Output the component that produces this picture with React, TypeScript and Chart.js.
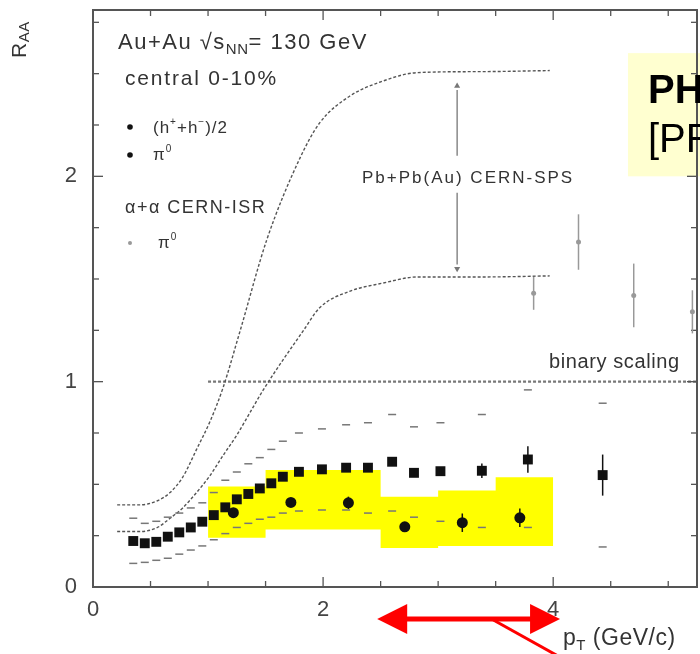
import { useEffect, useRef } from 'react';
import { Chart, registerables } from 'chart.js';
Chart.register(...registerables);

const FONT = '"Liberation Sans", Arial, sans-serif';

// (h+ + h-)/2
const hX = [0.35, 0.45, 0.55, 0.65, 0.75, 0.85, 0.95, 1.05, 1.15, 1.25, 1.35, 1.45, 1.55, 1.65, 1.79, 1.99, 2.2, 2.39, 2.6, 2.79, 3.02, 3.38, 3.78, 4.43];
const hY = [0.224, 0.213, 0.22, 0.245, 0.266, 0.29, 0.318, 0.35, 0.388, 0.427, 0.453, 0.48, 0.505, 0.537, 0.561, 0.573, 0.581, 0.581, 0.61, 0.556, 0.564, 0.566, 0.621, 0.545];
const hErr = [0.01, 0.01, 0.01, 0.01, 0.01, 0.01, 0.01, 0.01, 0.01, 0.01, 0.01, 0.01, 0.01, 0.01, 0.01, 0.015, 0.015, 0.015, 0.02, 0.02, 0.02, 0.035, 0.065, 0.1];
const hUpper = [0.335, 0.31, 0.32, 0.34, 0.36, 0.385, 0.41, 0.46, 0.52, 0.56, 0.6, 0.63, 0.67, 0.71, 0.75, 0.77, 0.79, 0.8, 0.84, 0.78, 0.8, 0.84, 0.96, 0.895];
const hLower = [0.115, 0.12, 0.13, 0.14, 0.16, 0.18, 0.2, 0.23, 0.26, 0.29, 0.31, 0.33, 0.34, 0.36, 0.37, 0.375, 0.375, 0.36, 0.37, 0.34, 0.32, 0.29, 0.29, 0.195];

// pi0 (PHENIX)
const piX = [1.22, 1.72, 2.22, 2.71, 3.21, 3.71];
const piY = [0.362, 0.412, 0.41, 0.293, 0.313, 0.337];
const piErr = [0.015, 0.015, 0.03, 0.02, 0.045, 0.045];

// alpha+alpha CERN-ISR pi0
const isrX = [3.83, 4.22, 4.70, 5.21];
const isrY = [1.43, 1.68, 1.42, 1.34];
const isrErr = [0.08, 0.135, 0.155, 0.105];

// Pb+Pb(Au) CERN-SPS band edges
const spsUpX = [0.21, 0.41, 0.56, 0.67, 0.78, 0.90, 1.02, 1.13, 1.28, 1.51, 1.80, 1.97, 2.23, 2.50, 2.82, 3.40, 3.97];
const spsUpY = [0.40, 0.40, 0.42, 0.46, 0.535, 0.67, 0.81, 0.97, 1.25, 1.69, 2.09, 2.26, 2.39, 2.46, 2.505, 2.51, 2.515];
const spsLoX = [0.21, 0.41, 0.56, 0.67, 0.78, 0.90, 1.02, 1.13, 1.25, 1.36, 1.48, 1.83, 1.97, 2.23, 2.52, 2.82, 3.40, 3.97];
const spsLoY = [0.27, 0.27, 0.29, 0.335, 0.385, 0.46, 0.545, 0.64, 0.74, 0.845, 0.96, 1.25, 1.36, 1.44, 1.48, 1.51, 1.51, 1.515];

// vertical double arrow between SPS curves
const spsArrowX = 3.165;
const spsArrowTop = 2.44;
const spsArrowGapTop = 2.10;
const spsArrowGapBottom = 1.92;
const spsArrowBottom = 1.55;

// binary scaling
const binaryX = [1.0, 5.25];
const binaryY = [1, 1];

// systematic (yellow) band
const sysEdges = [1.0, 1.5, 2.5, 3.0, 3.5, 4.0];
const sysHigh = [0.49, 0.57, 0.44, 0.47, 0.535];
const sysLow = [0.24, 0.28, 0.19, 0.20, 0.20];

// axes
const xMin = 0, xMax = 5.25, xMajor = [0, 2, 4], xMinorStep = 0.5;
const yMin = 0, yMax = 2.81, yMajor = [0, 1, 2], yMinorStep = 0.25;

// red annotation arrow (in x-data units)
const redArrowFrom = 2.47;
const redArrowTo = 4.06;
const redArrowBranch = 3.48;

// PHENIX label box (data units)
const phenixBoxX = 4.65;
const phenixBoxTop = 2.60;
const phenixBoxBottom = 2.0;

const pts = (xs: number[], ys: number[]) => xs.map((x, i) => ({ x, y: ys[i] }));
// segment i value sits on its left edge; last edge repeats last value (stepped:'before')
const stepPts = (edges: number[], vals: number[]) =>
  edges.map((x, i) => ({ x, y: vals[Math.min(i, vals.length - 1)] }));

type Run = { t: string; size: number; dy?: number; bold?: boolean; ls?: number };

function drawRuns(ctx: CanvasRenderingContext2D, x: number, y: number, runs: Run[], color: string, spacing = 0) {
  let cx = x;
  ctx.fillStyle = color;
  ctx.textBaseline = 'alphabetic';
  ctx.textAlign = 'left';
  for (const r of runs) {
    ctx.font = `${r.bold ? 'bold ' : ''}${r.size}px ${FONT}`;
    (ctx as any).letterSpacing = `${r.ls ?? spacing}px`;
    ctx.fillText(r.t, cx, y + (r.dy || 0));
    cx += ctx.measureText(r.t).width;
  }
  (ctx as any).letterSpacing = '0px';
}

const errorBars = {
  id: 'errorBars',
  afterDatasetsDraw(chart: any) {
    const { ctx, scales: { x, y } } = chart;
    ctx.save();
    const draw = (xs: number[], ys: number[], es: number[], color: string) => {
      ctx.strokeStyle = color;
      ctx.lineWidth = 1.5;
      xs.forEach((xv, i) => {
        const px = x.getPixelForValue(xv);
        ctx.beginPath();
        ctx.moveTo(px, y.getPixelForValue(ys[i] - es[i]));
        ctx.lineTo(px, y.getPixelForValue(ys[i] + es[i]));
        ctx.stroke();
      });
    };
    draw(hX, hY, hErr, '#111');
    draw(piX, piY, piErr, '#111');
    draw(isrX, isrY, isrErr, '#999');
    ctx.restore();
  },
};

const frame = {
  id: 'frame',
  afterDatasetsDraw(chart: any) {
    const { ctx, chartArea: { left, right, top, bottom }, scales: { x, y } } = chart;
    ctx.save();
    // PHENIX box (behind frame)
    const bx = x.getPixelForValue(phenixBoxX);
    const by1 = y.getPixelForValue(phenixBoxTop);
    const by2 = y.getPixelForValue(phenixBoxBottom);
    ctx.fillStyle = '#ffffd0';
    ctx.fillRect(bx, by1, chart.width - bx, by2 - by1);

    ctx.strokeStyle = '#555';
    ctx.lineWidth = 1.3;
    const ln = (a: number, b: number, c: number, d: number) => {
      ctx.beginPath(); ctx.moveTo(a, b); ctx.lineTo(c, d); ctx.stroke();
    };
    for (let v = xMin; v <= xMax + 1e-9; v += xMinorStep) {
      const px = x.getPixelForValue(v);
      const len = xMajor.some((m) => Math.abs(m - v) < 1e-6) ? 10 : 6;
      ln(px, bottom, px, bottom - len);
      ln(px, top, px, top + len);
    }
    for (let v = yMin; v <= yMax + 1e-9; v += yMinorStep) {
      const py = y.getPixelForValue(v);
      const len = yMajor.some((m) => Math.abs(m - v) < 1e-6) ? 10 : 6;
      ln(left, py, left + len, py);
      ln(right, py, right - len, py);
    }
    ctx.lineWidth = 2;
    ctx.strokeRect(left, top, right - left, bottom - top);
    ctx.restore();
  },
};

const texts = {
  id: 'texts',
  afterDraw(chart: any) {
    const { ctx, chartArea: { bottom }, scales: { x } } = chart;
    ctx.save();
    const c = '#333';
    drawRuns(ctx, 118, 49, [
      { t: 'Au+Au \u221As', size: 22 },
      { t: 'NN', size: 15, dy: 5, ls: 0.5 },
      { t: '= 130 GeV', size: 22 },
    ], c, 1.5);
    drawRuns(ctx, 125, 85, [{ t: 'central 0-10%', size: 21 }], c, 1.8);

    // legend
    ctx.fillStyle = '#111';
    ctx.beginPath(); ctx.arc(130, 127, 2.8, 0, Math.PI * 2); ctx.fill();
    ctx.beginPath(); ctx.arc(130, 155, 2.8, 0, Math.PI * 2); ctx.fill();
    drawRuns(ctx, 153, 133, [
      { t: '(h', size: 17 },
      { t: '+', size: 10, dy: -8 },
      { t: '+h', size: 17 },
      { t: '\u2212', size: 10, dy: -8 },
      { t: ')/2', size: 17 },
    ], c, 1);
    drawRuns(ctx, 153, 160, [
      { t: '\u03C0', size: 17 },
      { t: '0', size: 10, dy: -8 },
    ], c, 1);
    drawRuns(ctx, 125, 213, [{ t: '\u03B1+\u03B1 CERN-ISR', size: 18 }], c, 1.5);
    ctx.fillStyle = '#999';
    ctx.beginPath(); ctx.arc(130, 243, 2, 0, Math.PI * 2); ctx.fill();
    drawRuns(ctx, 158, 248, [
      { t: '\u03C0', size: 17 },
      { t: '0', size: 10, dy: -8 },
    ], c, 1);

    drawRuns(ctx, 362, 183, [{ t: 'Pb+Pb(Au) CERN-SPS', size: 17 }], c, 2);
    drawRuns(ctx, 549, 368, [{ t: 'binary scaling', size: 20 }], c, 0.6);

    // axis titles
    drawRuns(ctx, 563, 645, [
      { t: 'p', size: 23 },
      { t: 'T', size: 15, dy: 5 },
      { t: ' (GeV/c)', size: 23 },
    ], c, 0.5);
    ctx.save();
    ctx.translate(26, 58);
    ctx.rotate(-Math.PI / 2);
    drawRuns(ctx, 0, 0, [
      { t: 'R', size: 21 },
      { t: 'AA', size: 15, dy: 3 },
    ], c, 0.5);
    ctx.restore();

    // PHENIX box text
    drawRuns(ctx, 648, 103, [{ t: 'PHENIX', size: 40, bold: true }], '#000', 0);
    drawRuns(ctx, 648, 152, [{ t: '[PRL 88 022301]', size: 40 }], '#000', 0);

    // red arrow
    const yA = bottom + 32;
    const xl = x.getPixelForValue(redArrowFrom);
    const xr = x.getPixelForValue(redArrowTo);
    const xb = x.getPixelForValue(redArrowBranch);
    ctx.fillStyle = '#f00';
    ctx.strokeStyle = '#f00';
    ctx.lineWidth = 5;
    ctx.beginPath(); ctx.moveTo(xl + 25, yA); ctx.lineTo(xr - 25, yA); ctx.stroke();
    ctx.beginPath(); ctx.moveTo(xl, yA); ctx.lineTo(xl + 30, yA - 15); ctx.lineTo(xl + 30, yA + 15); ctx.closePath(); ctx.fill();
    ctx.beginPath(); ctx.moveTo(xr, yA); ctx.lineTo(xr - 30, yA - 15); ctx.lineTo(xr - 30, yA + 15); ctx.closePath(); ctx.fill();
    ctx.lineWidth = 3;
    ctx.beginPath(); ctx.moveTo(xb, yA + 1); ctx.lineTo(xb + 70, yA + 40); ctx.stroke();
    ctx.restore();
  },
};

export default function App() {
  const ref = useRef<HTMLCanvasElement>(null);
  useEffect(() => {
    document.body.style.margin = '0';
    const chart = new Chart(ref.current!, {
      type: 'scatter',
      data: {
        datasets: [
          { data: pts(hX, hY), pointStyle: 'rect', pointRadius: 7, backgroundColor: '#111', borderColor: '#111', borderWidth: 0 },
          { data: pts(piX, piY), pointStyle: 'circle', pointRadius: 5.5, backgroundColor: '#111', borderColor: '#111', borderWidth: 0 },
          { data: pts(hX, hUpper), pointStyle: 'line', pointRadius: 4, borderColor: '#777', borderWidth: 1.5 },
          { data: pts(hX, hLower), pointStyle: 'line', pointRadius: 4, borderColor: '#777', borderWidth: 1.5 },
          { data: pts(isrX, isrY), pointStyle: 'circle', pointRadius: 2.5, backgroundColor: '#999', borderColor: '#999', borderWidth: 0 },
          { data: pts(spsUpX, spsUpY), showLine: true, pointRadius: 0, borderColor: '#555', borderWidth: 1.4, borderDash: [3, 2], cubicInterpolationMode: 'monotone' } as any,
          { data: pts(spsLoX, spsLoY), showLine: true, pointRadius: 0, borderColor: '#555', borderWidth: 1.4, borderDash: [3, 2], cubicInterpolationMode: 'monotone' } as any,
          { data: pts([spsArrowX, spsArrowX], [spsArrowTop - 0.02, spsArrowGapTop]), showLine: true, pointRadius: 0, borderColor: '#777', borderWidth: 1.3 },
          { data: pts([spsArrowX, spsArrowX], [spsArrowGapBottom, spsArrowBottom + 0.02]), showLine: true, pointRadius: 0, borderColor: '#777', borderWidth: 1.3 },
          { data: pts([spsArrowX, spsArrowX], [spsArrowTop, spsArrowBottom]), pointStyle: 'triangle', pointRadius: 3.5, pointRotation: [0, 180], backgroundColor: '#777', borderColor: '#777', borderWidth: 0 } as any,
          { data: pts(binaryX, binaryY), showLine: true, pointRadius: 0, borderColor: '#777', borderWidth: 2.2, borderDash: [3, 2] },
          { data: stepPts(sysEdges, sysHigh), showLine: true, stepped: 'before', pointRadius: 0, borderWidth: 0, borderColor: 'rgba(0,0,0,0)', backgroundColor: '#ffff00', fill: '+1' } as any,
          { data: stepPts(sysEdges, sysLow), showLine: true, stepped: 'before', pointRadius: 0, borderWidth: 0, borderColor: 'rgba(0,0,0,0)', fill: false } as any,
        ],
      },
      options: {
        animation: false,
        responsive: false,
        layout: { autoPadding: false, padding: { top: 10, right: 3, left: 0, bottom: 0 } },
        plugins: { legend: { display: false }, tooltip: { enabled: false } },
        scales: {
          x: {
            type: 'linear', min: xMin, max: xMax,
            afterFit: (s: any) => { s.height = 67; s.paddingLeft = 0; s.paddingRight = 0; },
            grid: { display: false, drawTicks: false },
            border: { display: false },
            ticks: { stepSize: 2, includeBounds: false, padding: 10, color: '#444', font: { size: 22, family: FONT }, maxRotation: 0, autoSkip: false },
          },
          y: {
            type: 'linear', min: yMin, max: yMax,
            afterFit: (s: any) => { s.width = 93; s.paddingTop = 0; s.paddingBottom = 0; },
            grid: { display: false, drawTicks: false },
            border: { display: false },
            ticks: { stepSize: 1, includeBounds: false, padding: 16, color: '#444', font: { size: 22, family: FONT } },
          },
        },
      } as any,
      plugins: [frame, errorBars, texts],
    });
    return () => chart.destroy();
  }, []);
  return (
    <div style={{ width: 700, height: 654, overflow: 'hidden' }}>
      <canvas ref={ref} width={700} height={654} />
    </div>
  );
}
